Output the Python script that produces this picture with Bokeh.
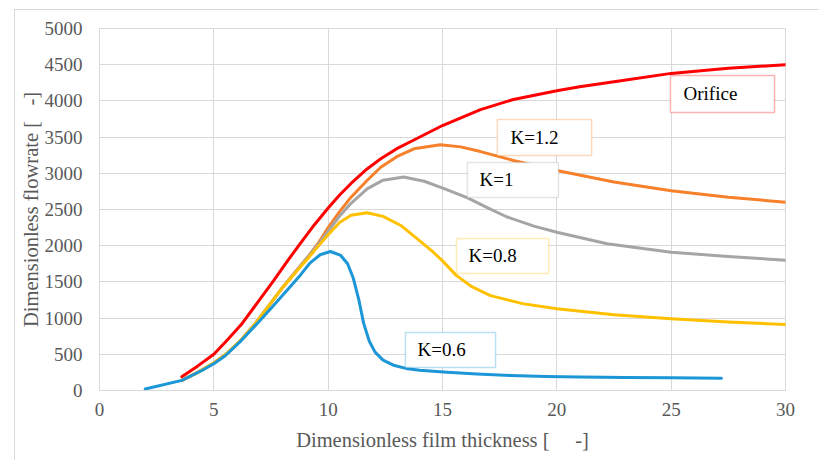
from bokeh.plotting import figure
from bokeh.models import Range1d, BoxAnnotation, Label, FixedTicker
from bokeh.embed import file_html
from bokeh.resources import INLINE

# ---------------- data ----------------
x_ticks = [0, 5, 10, 15, 20, 25, 30]
y_ticks = [0, 500, 1000, 1500, 2000, 2500, 3000, 3500, 4000, 4500, 5000]

orifice_x = [3.6, 4.3, 5.0, 5.6, 6.2, 6.9, 7.6, 8.2, 8.8, 9.4, 10.0, 10.5, 11.0, 11.7,
             12.3, 13.0, 13.75, 15.0, 16.66, 18.1, 20.0, 21.0, 22.5, 25.0, 27.5, 30.0]
orifice_y = [190, 340, 500, 700, 910, 1210, 1510, 1780, 2040, 2290, 2520, 2700, 2860, 3060,
             3200, 3340, 3460, 3660, 3880, 4020, 4140, 4195, 4265, 4380, 4450, 4500]

k12_x = [3.6, 4.3, 5.0, 5.6, 6.2, 6.8, 7.4, 8.0, 8.6, 9.1, 9.6, 10.0, 10.5, 11.0, 11.7,
         12.3, 13.0, 13.75, 14.9, 15.8, 16.66, 18.1, 20.0, 22.5, 25.0, 27.5, 30.0]
k12_y = [140, 250, 380, 520, 700, 920, 1170, 1420, 1650, 1840, 2050, 2250, 2470, 2670, 2900,
         3084, 3230, 3338, 3395, 3365, 3300, 3177, 3038, 2880, 2760, 2670, 2600]

k10_x = [3.6, 4.3, 5.0, 5.6, 6.2, 6.8, 7.4, 8.0, 8.6, 9.1, 9.6, 10.0, 10.5, 11.0, 11.7,
         12.4, 13.3, 14.2, 15.1, 16.1, 17.0, 17.8, 19.0, 20.0, 22.2, 25.0, 27.5, 30.0]
k10_y = [140, 250, 380, 520, 700, 920, 1170, 1420, 1650, 1840, 2030, 2200, 2410, 2585, 2785,
         2905, 2950, 2890, 2785, 2660, 2520, 2400, 2270, 2186, 2026, 1910, 1850, 1800]

k08_x = [3.6, 4.3, 5.0, 5.6, 6.2, 6.8, 7.4, 8.0, 8.6, 9.1, 9.5, 10.0, 10.5, 11.0, 11.7,
         12.4, 13.2, 13.9, 14.6, 15.0, 15.6, 16.3, 17.1, 18.5, 20.0, 22.5, 25.0, 27.5, 30.0]
k08_y = [140, 250, 380, 520, 700, 920, 1170, 1420, 1640, 1820, 1970, 2150, 2320, 2420, 2455,
         2405, 2275, 2095, 1910, 1790, 1590, 1430, 1310, 1200, 1128, 1045, 990, 945, 911]

k06_x = [2.0, 3.6, 4.5, 5.0, 5.5, 6.2, 7.0, 7.6, 8.3, 8.8, 9.2, 9.65, 10.1, 10.55, 10.85,
         11.1, 11.35, 11.55, 11.8, 12.05, 12.4, 12.9, 13.4, 14.0, 15.2, 16.5, 18.0, 19.5,
         21.0, 23.0, 25.0, 27.2]
k06_y = [20, 140, 280, 370, 480, 690, 960, 1170, 1420, 1600, 1760, 1875, 1920, 1865, 1750,
         1550, 1240, 930, 680, 530, 420, 345, 305, 280, 253, 228, 207, 195,
         185, 180, 175, 170]

series_names = ["Orifice", "K=1.2", "K=1", "K=0.8", "K=0.6"]
series_colors = ["#FF0000", "#F7802B", "#A5A5A5", "#FFC000", "#1B96D6"]

# label boxes: (left, right, bottom, top, text_x) in data units
label_boxes = [
    (24.97, 29.52, 3840, 4351, 25.54),
    (17.40, 21.52, 3246, 3743, 17.97),
    (16.09, 20.07, 2666, 3149, 16.62),
    (15.61, 19.64, 1616, 2100, 16.14),
    (13.38, 17.32, 318, 801, 13.91),
]

FONT = "Liberation Serif"
GRID = "#d9d9d9"
TXT = "#595959"

p = figure(width=805, height=451,
           x_range=Range1d(0, 30), y_range=Range1d(0, 5000),
           output_backend="svg", toolbar_location=None,
           min_border_left=84, min_border_right=35,
           min_border_top=18, min_border_bottom=71,
           margin=(9, 0, 0, 14),
           background_fill_color="white", border_fill_color="white")
p.styles = {"border-left": "1px solid #d9d9d9", "border-top": "1px solid #d9d9d9"}

p.outline_line_color = GRID
p.xaxis.ticker = FixedTicker(ticks=x_ticks)
p.yaxis.ticker = FixedTicker(ticks=y_ticks)

for ax in (p.xaxis, p.yaxis):
    ax.major_tick_line_color = None
    ax.minor_tick_line_color = None
    ax.major_tick_out = 0
    ax.major_tick_in = 0
    ax.minor_tick_out = 0
    ax.minor_tick_in = 0
    ax.axis_line_color = GRID
    ax.major_label_text_font = FONT
    ax.major_label_text_font_size = "19px"
    ax.major_label_text_color = TXT
    ax.axis_label_text_font = FONT
    ax.axis_label_text_font_size = "20.5px"
    ax.axis_label_text_font_style = "normal"
    ax.axis_label_text_color = TXT

p.xaxis.major_label_standoff = 12
p.yaxis.major_label_standoff = 17
p.xaxis.axis_label_standoff = 10
p.yaxis.axis_label_standoff = 0
p.xaxis.axis_label = "Dimensionless film thickness [" + "\u00a0" * 5 + "-]"
p.yaxis.axis_label = "Dimensionless flowrate [" + "\u00a0" * 3 + "-]"

p.xgrid.grid_line_color = GRID
p.ygrid.grid_line_color = GRID
p.xgrid.grid_line_width = 1
p.ygrid.grid_line_width = 1

all_x = [orifice_x, k12_x, k10_x, k08_x, k06_x]
all_y = [orifice_y, k12_y, k10_y, k08_y, k06_y]
for xs, ys, c in zip(all_x, all_y, series_colors):
    p.line(xs, ys, line_color=c, line_width=3, line_cap="round", line_join="round")

for (l, r, b, t, tx), name, c in zip(label_boxes, series_names, series_colors):
    p.add_layout(BoxAnnotation(left=l, right=r, bottom=b, top=t,
                               fill_color="white", fill_alpha=1.0,
                               line_color=c, line_width=1.5))
    p.add_layout(Label(x=tx, y=(b + t) / 2, text=name, text_font=FONT,
                       text_font_size="19px", text_color="#000000",
                       text_baseline="middle", text_align="left"))

open("out.html", "w").write(file_html(p, INLINE))
